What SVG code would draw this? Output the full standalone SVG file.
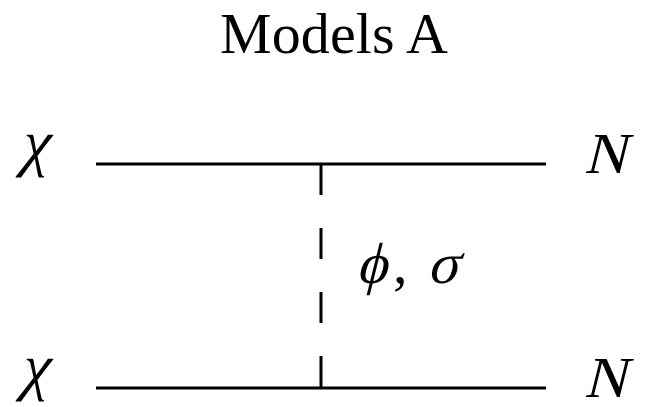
<svg xmlns="http://www.w3.org/2000/svg" width="647" height="407" viewBox="0 0 647 407">
<style>
.t{font-family:"Liberation Serif","DejaVu Serif",serif;fill:#000}
.m{font-family:"Liberation Serif","DejaVu Serif",serif;fill:#000}
.ln{stroke:#000;stroke-width:3;fill:none}
.dash{stroke:#000;stroke-width:3;fill:none;stroke-dasharray:31 33}
</style>
<rect width="647" height="407" fill="#fff"/>
<g id="title"><text class="t" x="334" y="53" font-size="58" text-anchor="middle" textLength="228">Models A</text></g>
<g id="chi-top"><text class="m" transform="translate(19,164) skewX(-14)" font-size="64">χ</text></g>
<g id="chi-bottom"><text class="m" transform="translate(19,388) skewX(-14)" font-size="64">χ</text></g>
<g id="n-top"><text class="m" transform="translate(584,173) skewX(-14)" font-size="58">N</text></g>
<g id="n-bottom"><text class="m" transform="translate(584,397) skewX(-14)" font-size="58">N</text></g>
<g id="mediator"><text class="m" transform="translate(356,283) skewX(-14)" font-size="58">ϕ</text><text class="m" x="393" y="283" font-size="58">,</text><text class="m" transform="translate(427,283) skewX(-14)" font-size="58">σ</text></g>
<g id="connectors">
<line class="ln" x1="96" y1="164" x2="546" y2="164"/>
<line class="ln" x1="96" y1="388" x2="546" y2="388"/>
<line class="dash" x1="321" y1="164" x2="321" y2="388"/>
</g>
</svg>
